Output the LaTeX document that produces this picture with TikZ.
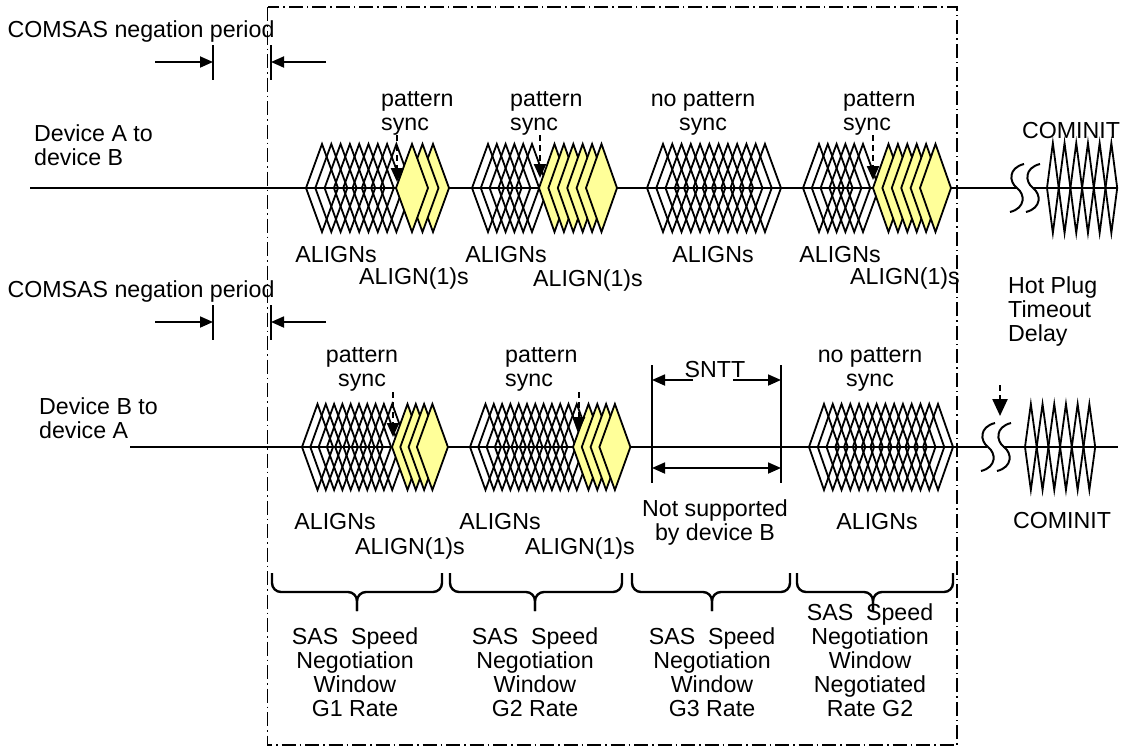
\documentclass[tikz,border=0pt]{standalone}
\usepackage{fontspec}
\setmainfont{Liberation Sans}
\usetikzlibrary{arrows.meta}
\definecolor{ylw}{HTML}{FFFF99}
\newcommand\mydia[5]{\draw[#5] (#1,#2) -- ++(#3,-#4) -- ++(#3,#4) -- ++(-#3,#4) -- cycle;}
\newcommand\mybrace[3]{%
  \draw[brc] (#1,573) -- (#1,592) -- (#2,592) -- (#2,611);
  \draw[brc] (#3,573) -- (#3,592) -- (#2,592) -- (#2,611);}
\newcommand\mysq[2]{\draw[sig] (#1+7,#2-24) .. controls (#1-9,#2-20) and (#1-8,#2-6) .. (#1,#2) .. controls (#1+8,#2+6) and (#1+9,#2+20) .. (#1-7,#2+24);}
\begin{document}
\begin{tikzpicture}[x=1pt,y=-1pt,
  every node/.style={inner sep=0pt,font=\fontsize{23.2}{24}\selectfont,align=center},
  sig/.style={line width=2pt},
  wd/.style={line width=1.8pt,line join=miter},
  yd/.style={wd,fill=ylw},
  frm/.style={line width=1.5pt,dash pattern=on 14pt off 4pt on 1.5pt off 4pt},
  dim/.style={line width=1.8pt,-{Triangle[length=13pt,width=11pt]}},
  syncarrow/.style={line width=2.4pt,dash pattern=on 6pt off 4pt,-{Triangle[length=14pt,width=12pt]}},
  tick/.style={line width=1.8pt},
  brc/.style={line width=2.4pt,rounded corners=9pt}
]
\useasboundingbox (0,0) rectangle (1122,750);

% frame
\draw[frm] (267.5,7) rectangle (957,745);

% COMSAS arrows
\node (cs1) at (141,31) {COMSAS negation period};
\coordinate (t1a) at (213,45); \coordinate (t1b) at (213,80);
\coordinate (t2a) at (271,45); \coordinate (t2b) at (271,80);
\draw[tick] (t1a) -- (t1b); \draw[tick] (t2a) -- (t2b);
\coordinate (a1s) at (155,62); \coordinate (a1e) at (213,62);
\coordinate (a2s) at (326,62); \coordinate (a2e) at (271,62);
\draw[dim] (a1s) -- (a1e); \draw[dim] (a2s) -- (a2e);

\node (cs2) at (141,291) {COMSAS negation period};
\coordinate (t3a) at (213,305); \coordinate (t3b) at (213,340);
\coordinate (t4a) at (271,305); \coordinate (t4b) at (271,340);
\draw[tick] (t3a) -- (t3b); \draw[tick] (t4a) -- (t4b);
\coordinate (a3s) at (155,322); \coordinate (a3e) at (213,322);
\coordinate (a4s) at (326,322); \coordinate (a4e) at (271,322);
\draw[dim] (a3s) -- (a3e); \draw[dim] (a4s) -- (a4e);

% device labels
\node[align=left,anchor=west] (devA) at (34,145) {Device A to\\device B};
\node[align=left,anchor=west] (devB) at (39,418) {Device B to\\device A};

% ================= top row =================
\coordinate (L1s) at (30,188); \coordinate (L1e) at (1017,188);
\coordinate (L1s2) at (1033,188); \coordinate (L1e2) at (1118,188);
\draw[sig] (L1s) -- (L1e);
\draw[sig] (L1s2) -- (L1e2);
\mysq{1017}{188}
\mysq{1033}{188}
\foreach \i in {0,...,5}{\pgfmathsetmacro\xx{1047+\i*11.7}\mydia{\xx}{188}{5.85}{45}{wd}}
\node (ci1) at (1071,131) {COMINIT};

% group 1
\foreach \i in {0,...,8}{\pgfmathsetmacro\xx{306+\i*9.3}\mydia{\xx}{188}{16}{44}{wd}}
\foreach \i in {2,1,0}{\pgfmathsetmacro\xx{396+\i*10.5}\mydia{\xx}{188}{16}{44}{yd}}
% group 2
\foreach \i in {0,...,5}{\pgfmathsetmacro\xx{472+\i*8.8}\mydia{\xx}{188}{16}{44}{wd}}
\foreach \i in {0,...,5}{\pgfmathsetmacro\xx{539+\i*9.4}\mydia{\xx}{188}{15.5}{44}{yd}}
% group 3
\foreach \i in {0,...,11}{\pgfmathsetmacro\xx{647+\i*9.27}\mydia{\xx}{188}{16}{44}{wd}}
% group 4
\foreach \i in {0,...,5}{\pgfmathsetmacro\xx{803+\i*8.8}\mydia{\xx}{188}{16}{44}{wd}}
\foreach \i in {0,...,5}{\pgfmathsetmacro\xx{873+\i*9.4}\mydia{\xx}{188}{15.5}{44}{yd}}

\node[align=left,anchor=west] (ps1) at (381,113) {pattern\\sync};
\node[align=left,anchor=west] (ps2) at (510,113) {pattern\\sync};
\node (ps3) at (703,113) {no pattern\\sync};
\node[align=left,anchor=west] (ps4) at (843,113) {pattern\\sync};
\coordinate (s1a) at (397,135); \coordinate (s1b) at (397,182);
\coordinate (s2a) at (540,135); \coordinate (s2b) at (540,178);
\coordinate (s4a) at (873,135); \coordinate (s4b) at (873,180);
\draw[syncarrow] (s1a) -- (s1b);
\draw[syncarrow] (s2a) -- (s2b);
\draw[syncarrow] (s4a) -- (s4b);

\node (al1) at (336,255) {ALIGNs};
\node (a11) at (414,278) {ALIGN(1)s};
\node (al2) at (506,255) {ALIGNs};
\node (a12) at (588,280) {ALIGN(1)s};
\node (al3) at (713,255) {ALIGNs};
\node (al4) at (840,255) {ALIGNs};
\node (a14) at (905,278) {ALIGN(1)s};

\node[align=left,anchor=west] (hp) at (1008,311) {Hot Plug\\Timeout\\Delay};

% ================= bottom row =================
\coordinate (L2s) at (130,447); \coordinate (L2e) at (987,447);
\coordinate (L2s2) at (1003,447); \coordinate (L2e2) at (1118,447);
\draw[sig] (L2s) -- (L2e);
\draw[sig] (L2s2) -- (L2e2);
\mysq{988}{447}
\mysq{1004}{447}
\foreach \i in {0,...,5}{\pgfmathsetmacro\xx{1025+\i*11.7}\mydia{\xx}{447}{5.85}{43}{wd}}
\node (ci2) at (1062,521) {COMINIT};
\coordinate (hpa) at (1000,385); \coordinate (hpb) at (1000,416);
\draw[line width=2.4pt,dash pattern=on 6pt off 4pt,-{Triangle[length=17pt,width=15pt]}] (hpa) -- (hpb);

% group 1
\foreach \i in {0,...,9}{\pgfmathsetmacro\xx{302+\i*8.3}\mydia{\xx}{447}{15.5}{43}{wd}}
\foreach \i in {0,...,3}{\pgfmathsetmacro\xx{392+\i*8.3}\mydia{\xx}{447}{15.5}{43}{yd}}
% group 2
\foreach \i in {0,...,11}{\pgfmathsetmacro\xx{470+\i*8.3}\mydia{\xx}{447}{15.5}{43}{wd}}
\foreach \i in {0,...,3}{\pgfmathsetmacro\xx{573+\i*8.8}\mydia{\xx}{447}{15.5}{43}{yd}}
% group 4
\foreach \i in {0,...,13}{\pgfmathsetmacro\xx{809+\i*8.77}\mydia{\xx}{447}{15}{43}{wd}}

\node (bp1) at (362,369) {pattern\\sync};
\node[align=left,anchor=west] (bp2) at (505,369) {pattern\\sync};
\node (bp4) at (870,369) {no pattern\\sync};
\coordinate (b1a) at (393,392); \coordinate (b1b) at (393,437);
\coordinate (b2a) at (579,392); \coordinate (b2b) at (579,431);
\draw[syncarrow] (b1a) -- (b1b);
\draw[syncarrow] (b2a) -- (b2b);

% SNTT
\coordinate (v1a) at (652,365); \coordinate (v1b) at (652,483);
\coordinate (v2a) at (781,365); \coordinate (v2b) at (781,483);
\draw[tick] (v1a) -- (v1b); \draw[tick] (v2a) -- (v2b);
\node (sntt) at (715,370) {SNTT};
\coordinate (sn1) at (693,380); \coordinate (sn1e) at (652,380);
\coordinate (sn2) at (733,380); \coordinate (sn2e) at (781,380);
\draw[dim] (sn1) -- (sn1e);
\draw[dim] (sn2) -- (sn2e);
\coordinate (dd1) at (652,468); \coordinate (dd2) at (781,468);
\draw[line width=1.8pt,{Triangle[length=13pt,width=11pt]}-{Triangle[length=13pt,width=11pt]}] (dd1) -- (dd2);

\node (bl1) at (335,522) {ALIGNs};
\node (b11) at (410,548) {ALIGN(1)s};
\node (bl2) at (500,522) {ALIGNs};
\node (b12) at (580,548) {ALIGN(1)s};
\node (nsb) at (715,522) {Not supported\\by device B};
\node (bl4) at (877,522) {ALIGNs};

% braces
\mybrace{272}{357}{442}
\mybrace{450}{535}{622}
\mybrace{632}{712}{790}
\mybrace{797}{873}{953}

\node (w1) at (355,672) {SAS~~Speed\\Negotiation\\Window\\G1 Rate};
\node (w2) at (535,672) {SAS~~Speed\\Negotiation\\Window\\G2 Rate};
\node (w3) at (712,672) {SAS~~Speed\\Negotiation\\Window\\G3 Rate};
\node (w4) at (870,660) {SAS~~Speed\\Negotiation\\Window\\Negotiated\\Rate G2};
\end{tikzpicture}
\end{document}
